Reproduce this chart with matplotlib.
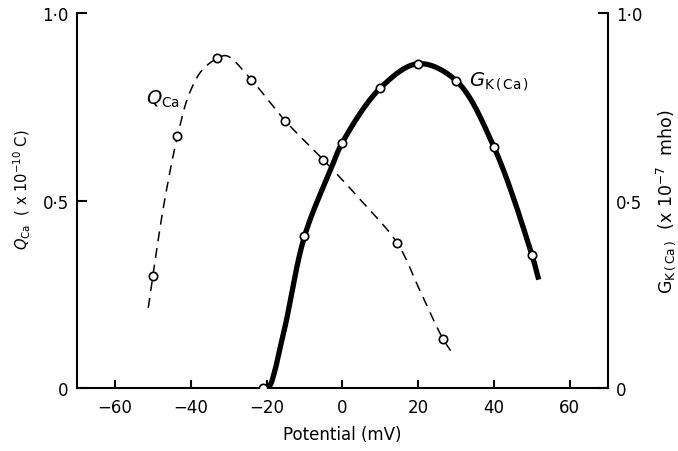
import numpy as np
import matplotlib.pyplot as plt

plt.rcParams['font.family'] = ['DejaVu Sans']
plt.rcParams['mathtext.fontset'] = 'dejavusans'

# Q_Ca, charge (x 1e-10 C) vs potential (mV)
q_mv = [-50, -43.5, -33, -24, -15, -5, 14.5, 26.5]
q_val = [0.30, 0.672, 0.879, 0.822, 0.712, 0.609, 0.387, 0.133]
# hand drawn dashed curve
q_line_mv = [-51.2, -50, -47, -43.5, -40.5, -37, -33, -30.5, -24, -15, -5, 5, 14.5, 20.5, 26.5, 29.3]
q_line_val = [0.215, 0.30, 0.495, 0.672, 0.782, 0.848, 0.879, 0.886, 0.822, 0.712, 0.609, 0.50, 0.387, 0.26, 0.133, 0.09]

# G_K(Ca), conductance (x 1e-7 mho) vs potential (mV)
g_mv = [-21, -10, 0, 10, 20, 30, 40, 50]
g_val = [0.0, 0.405, 0.655, 0.80, 0.865, 0.82, 0.643, 0.356]
# thick solid curve
g_line_mv = [-21, -19.3, -18, -16.5, -15, -10, -3, 0, 10, 20, 30, 40, 50, 51.8]
g_line_val = [0.0, 0.006, 0.04, 0.105, 0.17, 0.405, 0.585, 0.655, 0.80, 0.865, 0.82, 0.643, 0.356, 0.29]

yticks = [0, 0.5, 1.0]
yticklabels = ['0', '0·5', '1·0']
xticks = [-60, -40, -20, 0, 20, 40, 60]


def smooth(xs, ys, n=30):
    # centripetal catmull-rom through the traced points, in rough pixel space
    sx, sy = 530 / 140, 375
    p = np.column_stack([np.asarray(xs) * sx, np.asarray(ys) * sy])
    p = np.vstack([2 * p[0] - p[1], p, 2 * p[-1] - p[-2]])
    out = []
    for i in range(1, len(p) - 2):
        p0, p1, p2, p3 = p[i - 1:i + 3]
        t0 = 0.0
        t1 = t0 + np.linalg.norm(p1 - p0) ** 0.5
        t2 = t1 + np.linalg.norm(p2 - p1) ** 0.5
        t3 = t2 + np.linalg.norm(p3 - p2) ** 0.5
        t = np.linspace(t1, t2, n)[:, None]
        a1 = (t1 - t) / (t1 - t0) * p0 + (t - t0) / (t1 - t0) * p1
        a2 = (t2 - t) / (t2 - t1) * p1 + (t - t1) / (t2 - t1) * p2
        a3 = (t3 - t) / (t3 - t2) * p2 + (t - t2) / (t3 - t2) * p3
        b1 = (t2 - t) / (t2 - t0) * a1 + (t - t0) / (t2 - t0) * a2
        b2 = (t3 - t) / (t3 - t1) * a2 + (t - t1) / (t3 - t1) * a3
        c = (t2 - t) / (t2 - t1) * b1 + (t - t1) / (t2 - t1) * b2
        out.append(c)
    c = np.vstack(out)
    return c[:, 0] / sx, c[:, 1] / sy


fig = plt.figure(figsize=(6.78, 4.52), dpi=100)
ax = fig.add_axes([0.1136, 0.1383, 0.7827, 0.8307])

qx, qy = smooth(q_line_mv, q_line_val)
ax.plot(qx, qy, color='black', lw=1.1, linestyle=(0, (6.5, 4.5)), zorder=2)
gx, gy = smooth(g_line_mv, g_line_val)
ax.plot(gx, gy, color='black', lw=3.8, solid_capstyle='butt', zorder=2)

ax.plot(q_mv, q_val, 'o', ms=6, mfc='white', mec='black', mew=1.2, zorder=4)
ax.plot(g_mv, g_val, 'o', ms=6, mfc='white', mec='black', mew=1.2, zorder=4)

ax.text(-51.8, 0.758, r'$Q_{\mathrm{Ca}}$', fontsize=14, ha='left', va='baseline')
ax.text(33.3, 0.808, r'$G_{\mathrm{K\,(\,Ca\,)}}$', fontsize=14, ha='left', va='baseline')

ax.set_xlim(-70, 70)
ax.set_ylim(0, 1.0)
ax.set_xticks(xticks)
ax.set_yticks(yticks, yticklabels)

for s in ['left', 'right', 'bottom']:
    ax.spines[s].set_linewidth(1.5)
ax.spines['top'].set_visible(False)

ax.tick_params(axis='y', left=True, right=True, labelleft=True, labelright=True,
               direction='in', length=7, width=1.5, pad=6, labelsize=12)
ax.tick_params(axis='x', direction='in', length=6, width=1.5, pad=7, labelsize=12)
# the right axis has no tick mark at 0.5 in the original
ax.yaxis.get_major_ticks()[1].tick2line.set_visible(False)

ax.set_xlabel('Potential (mV)', fontsize=12, labelpad=6)
ax.text(-0.103, 0.531, r'$Q_{\mathrm{Ca}}$  ( x 10$^{-10}$ C)', fontsize=10.5,
        rotation=90, ha='center', va='center', transform=ax.transAxes)
ax.text(1.110, 0.50, r'$\mathrm{G}_{\mathrm{K\,(\,Ca\,)}}$  (x 10$^{-7}$  mho)', fontsize=12.5,
        rotation=90, ha='center', va='center', transform=ax.transAxes)

fig.savefig('out.png', dpi=100)
